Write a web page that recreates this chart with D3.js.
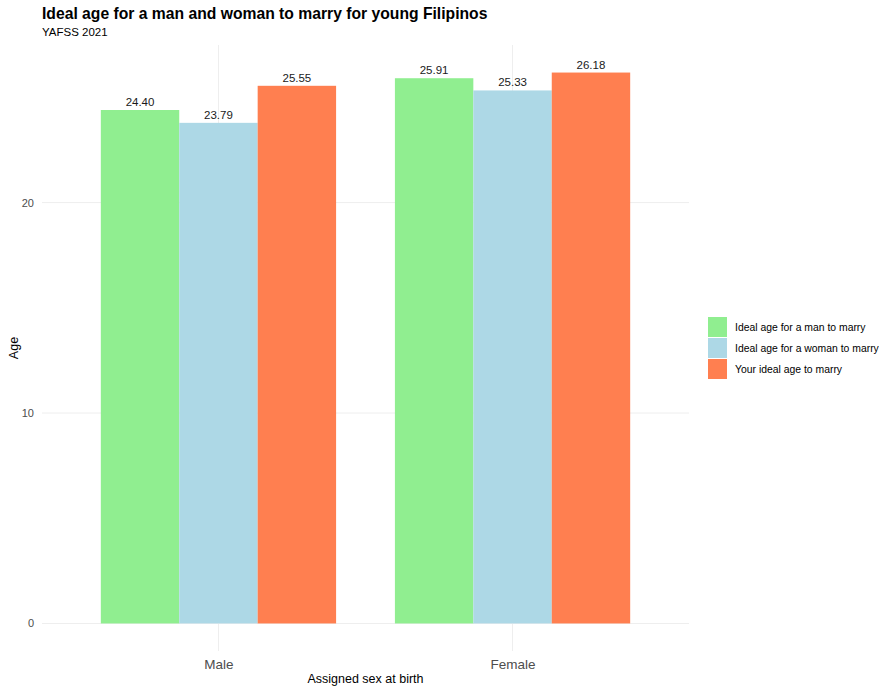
<!DOCTYPE html>
<html>
<head>
<meta charset="utf-8">
<script src="https://cdn.jsdelivr.net/npm/d3@7"></script>
<style>
  html, body { margin: 0; padding: 0; background: #fff; }
  svg { display: block; font-family: "Liberation Sans", Arial, sans-serif; }
</style>
</head>
<body>
<svg id="chart" width="879" height="686"></svg>
<script>
// Survey groups and the three ideal-age answers per group
const categories = ["Male", "Female"];
const seriesNames = [
  "Ideal age for a man to marry",
  "Ideal age for a woman to marry",
  "Your ideal age to marry"
];
const seriesColors = ["#90EE90", "#ADD8E6", "#FF7F50"];
const manAge = [24.40, 25.91];
const womanAge = [23.79, 25.33];
const ownAge = [25.55, 26.18];
const yTicks = [0, 10, 20];

const seriesValues = [manAge, womanAge, ownAge];
const rows = [];
categories.forEach((c, i) => {
  seriesNames.forEach((s, j) => rows.push({ cat: c, series: s, idx: j, value: seriesValues[j][i] }));
});

const svg = d3.select("#chart");
const panel = { left: 42, right: 689, top: 45, bottom: 651 };

// discrete x with 0.6 expansion on each side
const step = (panel.right - panel.left) / (categories.length - 1 + 1.2);
const xCenter = d3.scalePoint().domain(categories)
  .range([panel.left + 0.6 * step, panel.right - 0.6 * step]);
const groupWidth = 0.8 * step;
const xInner = d3.scaleBand().domain(seriesNames).range([-groupWidth / 2, groupWidth / 2]);

const yMax = d3.max(rows, d => d.value);
const y = d3.scaleLinear()
  .domain([-0.05 * yMax, yMax * 1.05])
  .range([panel.bottom, panel.top]);

// gridlines
const grid = svg.append("g").attr("stroke", "#eeeeee").attr("stroke-width", 1);
grid.selectAll("line.h").data(yTicks).join("line")
  .attr("x1", panel.left).attr("x2", panel.right)
  .attr("y1", d => y(d)).attr("y2", d => y(d));
grid.selectAll("line.v").data(categories).join("line")
  .attr("x1", d => xCenter(d)).attr("x2", d => xCenter(d))
  .attr("y1", panel.top).attr("y2", panel.bottom);

// bars
svg.append("g").selectAll("rect").data(rows).join("rect")
  .attr("x", d => xCenter(d.cat) + xInner(d.series))
  .attr("width", xInner.bandwidth())
  .attr("y", d => y(d.value))
  .attr("height", d => y(0) - y(d.value))
  .attr("fill", d => seriesColors[d.idx]);

// value labels
svg.append("g").selectAll("text").data(rows).join("text")
  .attr("x", d => xCenter(d.cat) + xInner(d.series) + xInner.bandwidth() / 2)
  .attr("y", d => y(d.value) - 4)
  .attr("text-anchor", "middle")
  .attr("font-size", 11.5)
  .attr("fill", "#1a1a1a")
  .text(d => d.value.toFixed(2));

// y axis
const yAxis = d3.axisLeft(y).tickValues(yTicks).tickSize(0).tickPadding(8);
const gy = svg.append("g").attr("transform", `translate(${panel.left},0)`)
  .call(yAxis).attr("color", "#4d4d4d");
gy.select(".domain").remove();
gy.selectAll("text").attr("font-size", 11).attr("fill", "#4d4d4d")
  .attr("font-family", "Liberation Sans, Arial, sans-serif");

// x axis
const xAxis = d3.axisBottom(xCenter).tickSize(0).tickPadding(8);
const gx = svg.append("g").attr("transform", `translate(0,${panel.bottom})`)
  .call(xAxis).attr("color", "#4d4d4d");
gx.select(".domain").remove();
gx.selectAll("text").attr("font-size", 13.5).attr("fill", "#4d4d4d")
  .attr("font-family", "Liberation Sans, Arial, sans-serif");

// axis titles
svg.append("text")
  .attr("x", (panel.left + panel.right) / 2).attr("y", 683)
  .attr("text-anchor", "middle").attr("font-size", 12.5).attr("fill", "#000")
  .text("Assigned sex at birth");
svg.append("text")
  .attr("transform", `translate(18,${(panel.top + panel.bottom) / 2}) rotate(-90)`)
  .attr("text-anchor", "middle").attr("font-size", 12.5).attr("fill", "#000")
  .text("Age");

// title and subtitle
svg.append("text").attr("x", 42).attr("y", 19)
  .attr("font-size", 15.7).attr("font-weight", "bold").attr("fill", "#000")
  .text("Ideal age for a man and woman to marry for young Filipinos");
svg.append("text").attr("x", 42).attr("y", 36)
  .attr("font-size", 11.5).attr("fill", "#000")
  .text("YAFSS 2021");

// legend
const legend = svg.append("g").attr("transform", "translate(708,317)");
const item = legend.selectAll("g").data(seriesNames).join("g")
  .attr("transform", (d, i) => `translate(0,${i * 21})`);
item.append("rect").attr("width", 19).attr("height", 20)
  .attr("fill", (d, i) => seriesColors[i]);
item.append("text").attr("x", 27).attr("y", 14)
  .attr("font-size", 10.4).attr("fill", "#000")
  .text(d => d);
</script>
</body>
</html>
